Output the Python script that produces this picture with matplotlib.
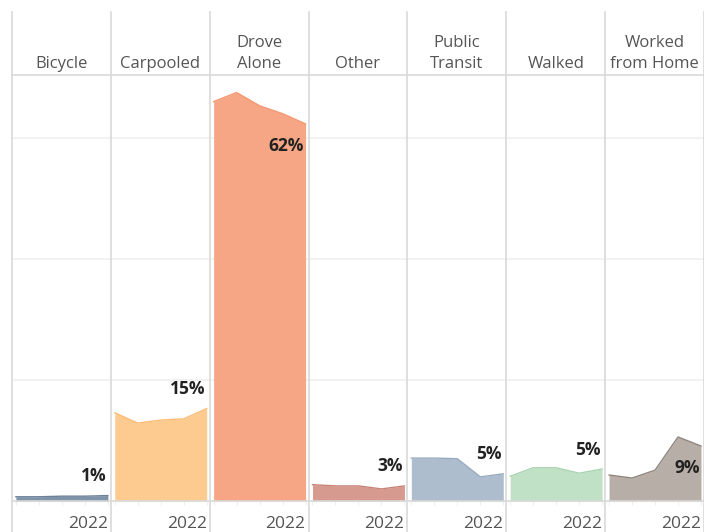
from __future__ import annotations

import matplotlib
matplotlib.use("Agg")
import matplotlib.pyplot as plt
import matplotlib.transforms as mtransforms
from matplotlib.lines import Line2D

# commute mode share, 2018-2022
years = [2018, 2019, 2020, 2021, 2022]
modes = ["Bicycle", "Carpooled", "Drove\nAlone", "Other", "Public\nTransit", "Walked", "Worked\nfrom Home"]
bicycle = [0.007, 0.007, 0.008, 0.008, 0.009]
carpooled = [0.146, 0.129, 0.134, 0.136, 0.153]
drove_alone = [0.661, 0.676, 0.654, 0.641, 0.624]
other = [0.027, 0.025, 0.025, 0.020, 0.025]
public_transit = [0.071, 0.071, 0.070, 0.040, 0.045]
walked = [0.041, 0.055, 0.055, 0.046, 0.053]
worked_from_home = [0.043, 0.038, 0.051, 0.106, 0.091]
end_labels = ["1%", "15%", "62%", "3%", "5%", "5%", "9%"]

FILLS = ["#7f93a9", "#fdcb8f", "#f6a684", "#d69a8f", "#adbdcd", "#c1e1c6", "#b6aea7"]
EDGES = ["#6d8199", "#fbbd76", "#f4966f", "#c98477", "#98abbf", "#a9d4b1", "#8f857d"]

W, H = 704, 532
LEFT, RIGHT = 12, 704
TOP_LINE, HEADER_LINE, BASE = 12, 75, 501
GRID_COLOR = "#f0f0f0"
LINE_COLOR = "#d9d9d9"


def _fx(px: float) -> float:
    return px / W


def _fy(py: float) -> float:
    return 1 - py / H


def main() -> None:
    series = [bicycle, carpooled, drove_alone, other, public_transit, walked, worked_from_home]
    plt.rcParams["font.family"] = ["Open Sans", "DejaVu Sans"]

    fig = plt.figure(figsize=(W / 100, H / 100), dpi=100)
    n = len(modes)
    pw = (RIGHT - LEFT) / n

    for i, (mode, vals) in enumerate(zip(modes, series)):
        x0 = LEFT + i * pw
        ax = fig.add_axes([_fx(x0), _fy(BASE), _fx(pw), _fy(HEADER_LINE) - _fy(BASE)])
        ax.set_xlim(2017.83, 2022.13)
        ax.set_ylim(0, 0.705)
        for g in (0.2, 0.4, 0.6):
            ax.axhline(g, color=GRID_COLOR, lw=1.2, zorder=0)
        ax.fill_between(years, vals, 0, color=FILLS[i], lw=0, zorder=2)
        ax.plot(years, vals, color=EDGES[i], lw=1.0, zorder=3)

        below = mode in ("Drove\nAlone", "Worked\nfrom Home")
        dy = -16 if below else 14
        ax.annotate(end_labels[i], xy=(years[-1], vals[-1]), xytext=(-1, dy),
                    textcoords="offset points", ha="right", va="center",
                    fontsize=12.5, fontweight="bold", color="#222222", zorder=4)

        ax.set_xticks(years)
        ax.set_xticklabels([""] * (len(years) - 1) + ["2022"])
        ax.tick_params(axis="x", length=3, color="#eeeeee", labelsize=12.5,
                       labelcolor="#555555", pad=8)
        for lab in ax.get_xticklabels():
            lab.set_horizontalalignment("right")
            lab.set_transform(lab.get_transform() + mtransforms.ScaledTranslation(0, 0, fig.dpi_scale_trans))
        ax.set_yticks([])
        for s in ax.spines.values():
            s.set_visible(False)
        ax.patch.set_alpha(0)

        fig.text(_fx(x0 + pw / 2), _fy(72), mode, ha="center", va="bottom",
                 fontsize=12, color="#555555", linespacing=1.4)

    # panel dividers and header / base rules
    for i in range(n + 1):
        x = _fx(LEFT + i * pw)
        fig.add_artist(Line2D([x, x], [_fy(TOP_LINE), 0], color=LINE_COLOR, lw=1.2))
    for y in (HEADER_LINE, BASE):
        fig.add_artist(Line2D([_fx(LEFT), 1], [_fy(y), _fy(y)], color=LINE_COLOR, lw=1.2))

    fig.savefig("out.png", dpi=100)
    plt.close(fig)


if __name__ == "__main__":
    main()
